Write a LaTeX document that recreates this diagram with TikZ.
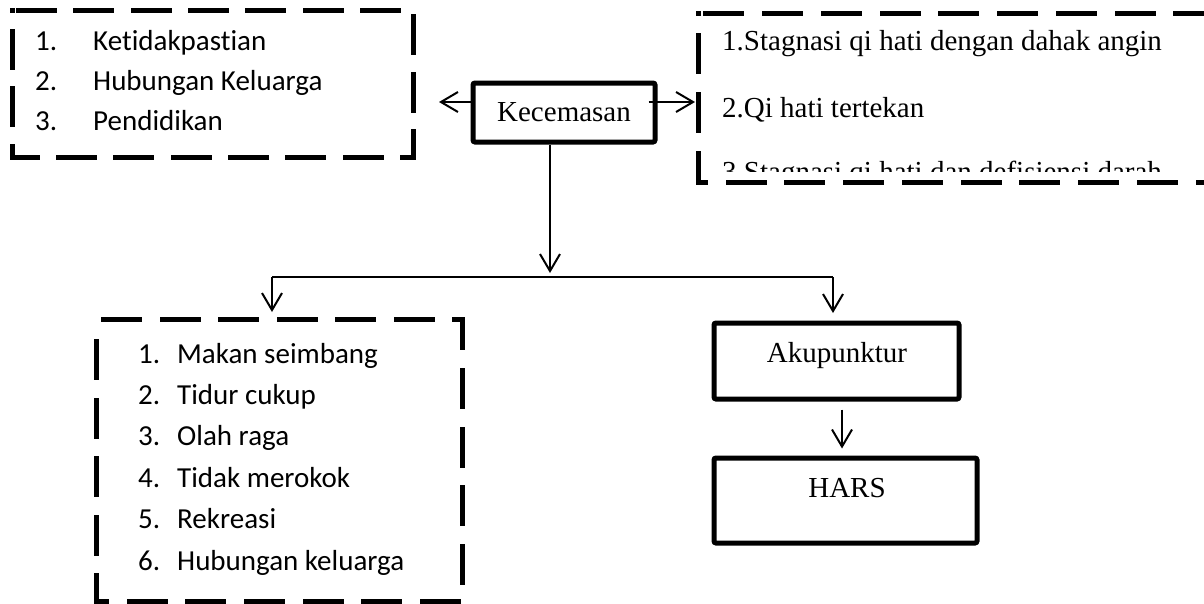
\documentclass[tikz,border=0pt]{standalone}
\usepackage{fontspec}
\setmainfont{Liberation Serif}
\newfontfamily\calfont[Ligatures=NoCommon]{Carlito}
\usetikzlibrary{arrows.meta,calc,decorations}
\newcommand\dbxsides[1]{%
  \draw[dline] ($(#1.north west)+(0,15)$) -- (#1.north west) -- (#1.north east)
    -- (#1.south east) -- (#1.south west) -- (#1.north west);}
\begin{document}
\begin{tikzpicture}[x=1pt,y=-1pt,
  dbox/.style={inner sep=0pt, outer sep=0pt},
  dline/.style={line width=5pt, dash pattern=on 36pt off 21pt, dash expand off, line cap=rect, line join=miter},
  sbox/.style={draw, line width=5pt, rounded corners=2pt, inner sep=0pt},
  serif/.style={font=\fontsize{29}{35}\selectfont, inner sep=0pt},
  sans/.style={font=\calfont\fontsize{29}{35}\selectfont, inner sep=0pt, anchor=base west},
  arr/.style={line width=2pt, -{Straight Barb[length=17pt,width=20pt]}},
  ln/.style={line width=2pt}]
\clip (0,0) rectangle (1204,603);
% top-left dashed box
\node[dbox, minimum width=401pt, minimum height=147pt] (tl) at (212.5,83.5) {};
\dbxsides{tl}
\foreach \t [count=\k] in {Ketidakpastian, Hubungan Keluarga, Pendidikan}{
  \node[sans] (tln\k) at (35,{50+40*(\k-1)}) {\k.};
  \node[sans] (tlt\k) at (93,{50+40*(\k-1)}) {\t};
}
% Kecemasan
\node[sbox, serif, minimum width=182pt, minimum height=59pt] (kec) at (564,112.5) {Kecemasan};
% top-right dashed box
\node[dbox, minimum width=540pt, minimum height=169pt] (tr) at (968,97.5) {};
\dbxsides{tr}
\node[serif, anchor=base west] (tr1) at (722,50) {1.Stagnasi qi hati dengan dahak angin};
\node[serif, anchor=base west] (tr2) at (722,117) {2.Qi hati tertekan};
\begin{scope}
  \clip (702,0) rectangle (1204,171);
  \node[serif, anchor=base west] (tr3) at (722,181) {3.Stagnasi qi hati dan defisiensi darah};
\end{scope}
% bottom-left dashed box
\node[dbox, minimum width=366pt, minimum height=282pt] (bl) at (279,460) {};
\dbxsides{bl}
\foreach \t [count=\k] in {Makan seimbang, Tidur cukup, Olah raga, Tidak merokok, Rekreasi, Hubungan keluarga}{
  \node[sans] (bln\k) at (138,{363+41.4*(\k-1)}) {\k.};
  \node[sans] (blt\k) at (177,{363+41.4*(\k-1)}) {\t};
}
% Akupunktur and HARS
\node[sbox, minimum width=245pt, minimum height=76pt] (akup) at (836.5,361) {};
\node[serif, anchor=base] (akupt) at (837,362) {Akupunktur};
\node[sbox, minimum width=263pt, minimum height=85pt] (hars) at (845.5,500.5) {};
\node[serif, anchor=base] (harst) at (847,497) {HARS};
% connectors
\coordinate (kl) at (439,102);
\coordinate (kr) at (695,102);
\draw[arr] (kec.west |- kl) -- (kl);
\draw[arr] ($(kec.east |- kr)+(-9,0)$) -- (kr);
\coordinate (vt) at (550,273);
\draw[arr] (kec.south -| vt) -- (vt);
\coordinate (hl) at (272,277);
\coordinate (hr) at (833,277);
\draw[ln] (hl) -- (hr);
\draw[arr, shorten >=7pt] (hl) -- (hl |- bl.north);
\draw[arr, shorten >=7.5pt] (hr) -- (hr |- akup.north);
\coordinate (ax) at (842,430);
\draw[arr, shorten <=8pt, shorten >=7pt] (akup.south -| ax) -- (hars.north -| ax);
\end{tikzpicture}
\end{document}
